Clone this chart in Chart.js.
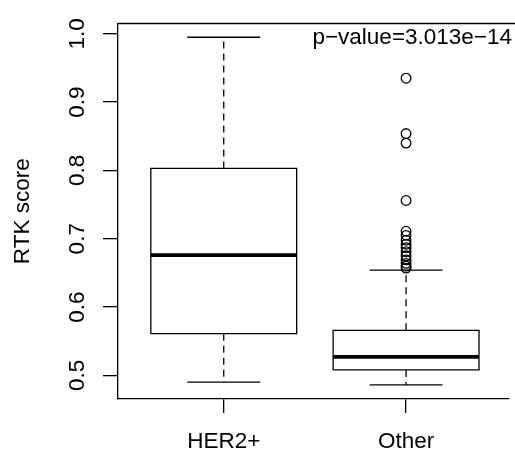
<!DOCTYPE html>
<html>
<head>
<meta charset="utf-8">
<script src="https://cdn.jsdelivr.net/npm/chart.js@4/dist/chart.umd.min.js"></script>
<style>
  html, body { margin: 0; padding: 0; background: #fff; }
  #wrap { width: 515px; height: 459px; position: relative; }
</style>
</head>
<body>
<div id="wrap"><canvas id="c"></canvas></div>
<script>
// ---- data ----
const categories = ['HER2+', 'Other'];
const lowerWhisker = [0.490, 0.486];
const q1 = [0.561, 0.508];
const median = [0.676, 0.527];
const q3 = [0.803, 0.566];
const upperWhisker = [0.995, 0.654];
const outliersHER2 = [];
const outliersOther = [0.935, 0.854, 0.840, 0.756, 0.711, 0.705, 0.698, 0.692, 0.687, 0.681, 0.675, 0.669, 0.664, 0.660, 0.657];
const yTickValues = [0.5, 0.6, 0.7, 0.8, 0.9, 1.0];
const yAxisTitle = 'RTK score';
const pValueText = 'p\u2212value=3.013e\u221214';

// ---- build datasets ----
const outliers = [outliersHER2, outliersOther];
const LW = 1.3;
const datasets = [];
const halfBox = 0.4, halfCap = 0.2;
categories.forEach((cat, i) => {
  const x = i + 1;
  const line = (pts, extra) => Object.assign({
    type: 'scatter', data: pts, showLine: true, borderColor: '#000',
    borderWidth: LW, pointRadius: 0, pointHoverRadius: 0, fill: false,
    borderJoinStyle: 'miter', borderCapStyle: 'butt'
  }, extra || {});
  // box
  datasets.push(line([
    {x: x - halfBox, y: q1[i]}, {x: x + halfBox, y: q1[i]},
    {x: x + halfBox, y: q3[i]}, {x: x - halfBox, y: q3[i]},
    {x: x - halfBox, y: q1[i]}
  ]));
  // whiskers (dashed)
  datasets.push(line([{x: x, y: q3[i]}, {x: x, y: upperWhisker[i]}], {borderDash: [7, 5]}));
  datasets.push(line([{x: x, y: q1[i]}, {x: x, y: lowerWhisker[i]}], {borderDash: [7, 5]}));
  // caps
  datasets.push(line([{x: x - halfCap, y: upperWhisker[i]}, {x: x + halfCap, y: upperWhisker[i]}]));
  datasets.push(line([{x: x - halfCap, y: lowerWhisker[i]}, {x: x + halfCap, y: lowerWhisker[i]}]));
  // median
  datasets.push(line([{x: x - halfBox, y: median[i]}, {x: x + halfBox, y: median[i]}], {borderWidth: 3.6}));
  // outliers
  datasets.push({
    type: 'scatter', data: outliers[i].map(v => ({x: x, y: v})), showLine: false,
    pointStyle: 'circle', pointRadius: 4.8, pointBorderWidth: LW,
    pointBorderColor: '#000', pointBackgroundColor: 'rgba(0,0,0,0)', pointHoverRadius: 4.8
  });
});

const framePlugin = {
  id: 'frame',
  afterDraw(chart) {
    const {ctx, chartArea: a} = chart;
    ctx.save();
    ctx.strokeStyle = '#000';
    ctx.lineWidth = LW;
    ctx.beginPath();
    ctx.moveTo(a.left, a.top);
    ctx.lineTo(chart.width + 2, a.top);
    ctx.stroke();
    ctx.font = '22.5px "Liberation Sans", Arial, sans-serif';
    ctx.fillStyle = '#000';
    ctx.textAlign = 'right';
    ctx.textBaseline = 'alphabetic';
    ctx.fillText(pValueText, chart.width - 3, a.top + 20);
    ctx.restore();
  }
};

Chart.defaults.font.family = '"Liberation Sans", Arial, sans-serif';
Chart.defaults.font.size = 22.5;
Chart.defaults.color = '#000';

new Chart(document.getElementById('c'), {
  type: 'scatter',
  data: { datasets },
  plugins: [framePlugin],
  options: {
    responsive: true,
    maintainAspectRatio: false,
    animation: false,
    devicePixelRatio: 1,
    layout: { padding: { top: 13, right: 0, left: 0, bottom: 0 } },
    plugins: { legend: { display: false }, tooltip: { enabled: false }, title: { display: false } },
    scales: {
      x: {
        type: 'linear', min: 0.42, max: 2.564,
        afterBuildTicks: s => { s.ticks = categories.map((c, i) => ({value: i + 1})); },
        afterFit: s => { s.height = 60; },
        ticks: {
          callback: v => categories[Math.round(v) - 1] ?? '',
          padding: 15, maxRotation: 0, minRotation: 0, autoSkip: false,
          font: { size: 22.5 }
        },
        grid: { drawOnChartArea: false, drawTicks: true, tickLength: 14, color: '#000', lineWidth: LW },
        border: { display: true, color: '#000', width: LW }
      },
      y: {
        type: 'linear', min: 0.4654, max: 1.0151,
        afterBuildTicks: s => { s.ticks = yTickValues.map(v => ({value: v})); },
        afterFit: s => { s.width = 118; },
        ticks: {
          callback: v => v.toFixed(1),
          minRotation: 90, maxRotation: 90,
          crossAlign: 'center', padding: 10, autoSkip: false,
          font: { size: 22.5 }
        },
        title: { display: true, text: yAxisTitle, font: { size: 22.5 }, padding: { top: 9, bottom: 0 } },
        grid: { drawOnChartArea: false, drawTicks: true, tickLength: 15, color: '#000', lineWidth: LW },
        border: { display: true, color: '#000', width: LW }
      }
    }
  }
});
</script>
</body>
</html>
